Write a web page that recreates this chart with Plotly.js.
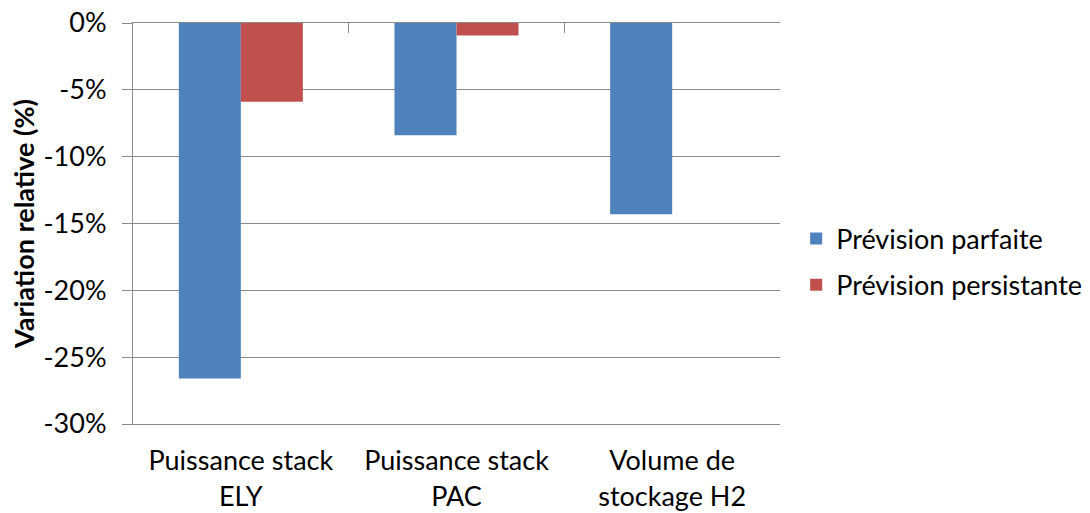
<!DOCTYPE html>
<html>
<head>
<meta charset="utf-8">
<script src="https://cdn.plot.ly/plotly-3.0.1.min.js"></script>
<style>html,body{margin:0;padding:0;background:#fff;}#chart{width:1090px;height:513px;}</style>
</head>
<body>
<div id="chart"></div>
<script>
const categories = ["Puissance stack<br>ELY", "Puissance stack<br>PAC", "Volume de<br>stockage H2"];
const seriesNames = ["Prévision parfaite", "Prévision persistante"];
const parfaite = [-26.6, -8.4, -14.3];
const persistante = [-5.9, -0.93, 0];
const yTickVals = [0, -5, -10, -15, -20, -25, -30];
const yTickText = ["0%", "-5%", "-10%", "-15%", "-20%", "-25%", "-30%"];
const boundaries = [0.5, 1.5, 2.5];

const gray = "#8a8a8a";
const fontFam = "Lato, 'Open Sans', sans-serif";
const fs = 27;

const traces = [
  {type: "bar", name: seriesNames[0], x: categories, y: parfaite, marker: {color: "#4F81BD"}, legendgroup: "a", hoverinfo: "skip"},
  {type: "bar", name: seriesNames[1], x: categories, y: persistante, marker: {color: "#C0504D"}, legendgroup: "b", hoverinfo: "skip"},
  {type: "scatter", x: [], y: [], xaxis: "x2", yaxis: "y", showlegend: false, hoverinfo: "skip"}
];

const layout = {
  width: 1090, height: 513,
  margin: {l: 133, r: 310, t: 23, b: 89, autoexpand: false},
  paper_bgcolor: "#fff", plot_bgcolor: "#fff",
  font: {family: fontFam, size: fs, color: "#000"},
  barmode: "group", bargap: 0.425, bargroupgap: 0,
  showlegend: true,
  legend: {x: 1.025, xanchor: "left", y: 0.404, yanchor: "middle", font: {size: fs, family: fontFam, color: "#000"}, traceorder: "grouped", tracegroupgap: 8, bgcolor: "rgba(0,0,0,0)"},
  xaxis: {type: "category", automargin: false, showline: true, linecolor: gray, linewidth: 1, ticks: "", showgrid: false, zeroline: false, tickfont: {size: fs, family: fontFam, color: "#000"}, ticklabelstandoff: 13, fixedrange: true},
  xaxis2: {overlaying: "x", side: "top", anchor: "y", range: [-0.5, 2.5], tickvals: boundaries, ticks: "inside", ticklen: 10, tickcolor: gray, tickwidth: 1, showticklabels: false, showline: true, linecolor: gray, linewidth: 1, showgrid: false, zeroline: false, fixedrange: true},
  yaxis: {range: [-30, 0], automargin: false, tickvals: yTickVals, ticktext: yTickText, ticks: "outside", ticklen: 10, tickcolor: gray, tickwidth: 1, showline: true, linecolor: gray, linewidth: 1, showgrid: true, gridcolor: gray, gridwidth: 1, zeroline: false, tickfont: {size: fs, family: fontFam, color: "#000"}, ticklabelstandoff: 10,
    title: {text: "<b>Variation relative (%)</b>", font: {size: fs, family: fontFam, color: "#000"}, standoff: 1}, fixedrange: true}
};

Plotly.newPlot("chart", traces, layout, {displayModeBar: false, staticPlot: true});
</script>
</body>
</html>
